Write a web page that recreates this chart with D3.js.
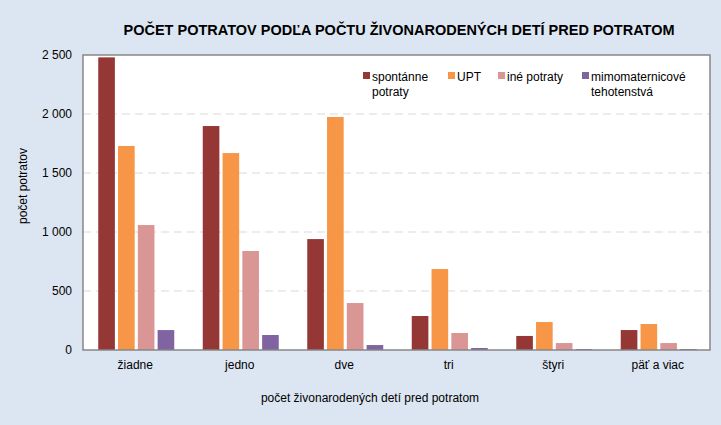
<!DOCTYPE html>
<html><head><meta charset="utf-8">
<script src="https://cdn.jsdelivr.net/npm/d3@7"></script>
<style>body{margin:0;background:#DCE6F2;}svg{display:block;font-family:"Liberation Sans",Arial,sans-serif;}</style>
</head><body><svg id="c" width="721" height="425"></svg>
<script>
const categories = ["žiadne","jedno","dve","tri","štyri","päť a viac"];
const seriesNames = [["spontánne","potraty"],["UPT"],["iné potraty"],["mimomaternicové","tehotenstvá"]];
const spontanne = [2480,1898,940,288,119,169];
const upt = [1729,1669,1975,686,237,220];
const ine = [1059,839,398,144,59,59];
const mimo = [169,127,42,17,8,8];
const yTicks = [0,500,1000,1500,2000,2500];
const colors = ["#953735","#F79646","#DA9694","#8064A2"];
const series = [spontanne,upt,ine,mimo];

const svg = d3.select("#c");
svg.append("rect").attr("width",721).attr("height",425).attr("fill","#DCE6F2");
const L=83,R=710,T=55,B=350;
svg.append("rect").attr("x",L).attr("y",T).attr("width",R-L).attr("height",B-T).attr("fill","#fff");
const x = d3.scaleBand().domain(categories).range([L,R]);
const y = d3.scaleLinear().domain([0,2500]).range([B,T]);
const fmt = v => d3.format(",")(v).replace(/,/g," ");
// grid
svg.append("g").selectAll("line").data(yTicks.filter(t=>t>0&&t<2500)).join("line")
  .attr("x1",L).attr("x2",R).attr("y1",d=>y(d)).attr("y2",d=>y(d))
  .attr("stroke","#D9D9D9").attr("stroke-dasharray","8,5");
// y axis labels
const ya = svg.append("g").attr("transform",`translate(${L},0)`).call(d3.axisLeft(y).tickValues(yTicks).tickFormat(fmt).tickSize(0).tickPadding(11));
ya.select(".domain").remove();
ya.selectAll("text").attr("font-size",12).attr("fill","#000").attr("font-family","Liberation Sans, Arial, sans-serif");
// bars
const inner = d3.scaleBand().domain(d3.range(4)).range([0,76]).paddingInner(0.16);
const off = (x.bandwidth()-76)/2 + 1;
series.forEach((s,i)=>{
  svg.append("g").selectAll("rect").data(s).join("rect")
    .attr("x",(d,j)=>x(categories[j])+off+inner(i)).attr("width",inner.bandwidth())
    .attr("y",d=>y(d)).attr("height",d=>B-y(d)).attr("fill",colors[i]);
});
// border
svg.append("rect").attr("x",L).attr("y",T).attr("width",R-L).attr("height",B-T).attr("fill","none").attr("stroke","#868686").attr("stroke-width",1.5);
// x labels
const xa = svg.append("g").attr("transform",`translate(0,${B})`).call(d3.axisBottom(x).tickSize(0).tickPadding(10));
xa.select(".domain").remove();
xa.selectAll("text").attr("font-size",12).attr("fill","#000").attr("font-family","Liberation Sans, Arial, sans-serif");
// titles
svg.append("text").attr("x",399).attr("y",35).attr("text-anchor","middle").attr("font-size",14.5).attr("font-weight","bold").text("POČET POTRATOV PODĽA POČTU ŽIVONARODENÝCH DETÍ PRED POTRATOM");
svg.append("text").attr("x",370).attr("y",402).attr("text-anchor","middle").attr("font-size",12).text("počet živonarodených detí pred potratom");
svg.append("text").attr("transform","translate(27,186) rotate(-90)").attr("text-anchor","middle").attr("font-size",12).text("počet potratov");
// legend
const lx=[363,448,498,582];
seriesNames.forEach((n,i)=>{
  svg.append("rect").attr("x",lx[i]).attr("y",72).attr("width",7).attr("height",7).attr("fill",colors[i]);
  const t = svg.append("text").attr("x",lx[i]+9).attr("y",81).attr("font-size",12);
  n.forEach((line,k)=>t.append("tspan").attr("x",lx[i]+9).attr("dy",k?15:0).text(line));
});
</script></body></html>
